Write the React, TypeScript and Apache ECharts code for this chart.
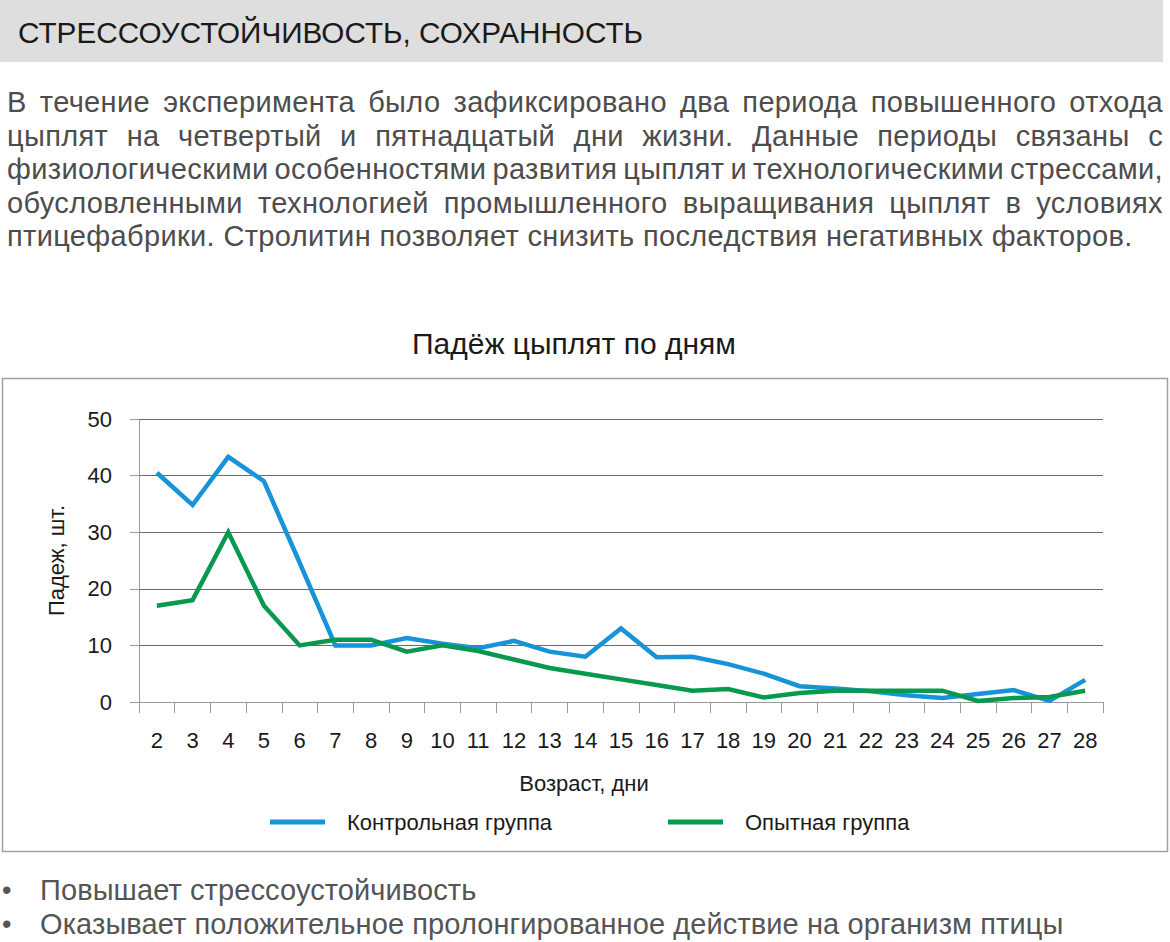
import React, { useEffect, useRef } from "react";
import * as echarts from "echarts";

const FONT = "'Liberation Sans', Arial, Helvetica, sans-serif";

const headerText = "СТРЕССОУСТОЙЧИВОСТЬ, СОХРАННОСТЬ";
const paragraphLines = [
  "В течение эксперимента было зафиксировано два периода повышенного отхода",
  "цыплят на четвертый и пятнадцатый дни жизни. Данные периоды связаны с",
  "физиологическими особенностями развития цыплят и технологическими стрессами,",
  "обусловленными технологией промышленного выращивания цыплят в условиях",
  "птицефабрики. Стролитин позволяет снизить последствия негативных факторов.",
];
const bullets = [
  "Повышает стрессоустойчивость",
  "Оказывает положительное пролонгированное действие на организм птицы",
];

const chartTitle = "Падёж цыплят по дням";
const xAxisName = "Возраст, дни";
const yAxisName = "Падеж, шт.";
const seriesNames = ["Контрольная группа", "Опытная группа"];

const days = [
  "2", "3", "4", "5", "6", "7", "8", "9", "10", "11", "12", "13", "14", "15",
  "16", "17", "18", "19", "20", "21", "22", "23", "24", "25", "26", "27", "28",
];
const controlGroup = [
  40.5, 34.8, 43.3, 39, 24.6, 10, 10, 11.3, 10.3, 9.5, 10.8, 8.9, 8, 13,
  7.9, 8, 6.7, 5, 2.8, 2.4, 1.9, 1.2, 0.7, 1.4, 2.1, 0.2, 3.9,
];
const experimentalGroup = [
  17, 18, 30, 17, 10, 11, 11, 8.9, 10, 9, 7.5, 6, 5, 4,
  3, 2, 2.3, 0.8, 1.6, 2, 2, 2, 2, 0.2, 0.7, 0.9, 2,
];
const yMin = 0;
const yMax = 50;
const yStep = 10;

const BLUE = "#1993d8";
const GREEN = "#08994f";

export default function App() {
  const ref = useRef<HTMLDivElement>(null);

  useEffect(() => {
    if (!ref.current) return;
    const chart = echarts.init(ref.current, null, { renderer: "svg" });
    const textColor = "#1a1a1a";
    const fs = 22;
    chart.setOption({
      animation: false,
      textStyle: { fontFamily: FONT },
      title: {
        text: chartTitle,
        left: 412,
        top: 328,
        padding: 0,
        textStyle: { fontSize: 30, fontWeight: "normal", color: textColor, fontFamily: FONT },
      },
      graphic: [
        {
          type: "rect",
          shape: { x: 2.5, y: 378.5, width: 1165, height: 473 },
          style: { fill: "none", stroke: "#a0a0a0", lineWidth: 1.5 },
          silent: true,
          z: 0,
        },
      ],
      legend: [
        {
          data: [seriesNames[0]],
          left: 270,
          top: 811,
          icon: "rect",
          itemWidth: 55,
          itemHeight: 5,
          padding: 0,
          textStyle: { fontSize: fs, color: textColor, padding: [0, 0, 0, 17], fontFamily: FONT },
        },
        {
          data: [seriesNames[1]],
          left: 668,
          top: 811,
          icon: "rect",
          itemWidth: 55,
          itemHeight: 5,
          padding: 0,
          textStyle: { fontSize: fs, color: textColor, padding: [0, 0, 0, 17], fontFamily: FONT },
        },
      ],
      grid: { left: 139, top: 419, width: 964, height: 283, containLabel: false },
      xAxis: {
        type: "category",
        data: days,
        boundaryGap: true,
        name: xAxisName,
        nameLocation: "middle",
        nameGap: 70,
        nameTextStyle: { fontSize: fs, color: textColor, padding: [0, 74, 0, 0], fontFamily: FONT },
        axisLine: { show: true, lineStyle: { color: "#9a9a9a", width: 1 } },
        axisTick: { show: true, length: 11, alignWithLabel: false, interval: 0, lineStyle: { color: "#9a9a9a" } },
        axisLabel: { fontSize: fs, color: textColor, margin: 27, interval: 0, fontFamily: FONT },
        splitLine: { show: false },
      },
      yAxis: {
        type: "value",
        min: yMin,
        max: yMax,
        interval: yStep,
        name: yAxisName,
        nameLocation: "middle",
        nameGap: 72,
        nameTextStyle: { fontSize: fs, color: textColor, fontFamily: FONT },
        axisLine: { show: true, lineStyle: { color: "#9a9a9a", width: 1 } },
        axisTick: { show: true, length: 9, lineStyle: { color: "#9a9a9a" } },
        axisLabel: { fontSize: fs, color: textColor, margin: 27, fontFamily: FONT },
        splitLine: { show: true, lineStyle: { color: "#6a6a6a", width: 1 } },
      },
      series: [
        {
          name: seriesNames[0],
          type: "line",
          data: controlGroup,
          showSymbol: false,
          symbol: "none",
          color: BLUE,
          lineStyle: { color: BLUE, width: 4.5, join: "miter" },
          z: 3,
        },
        {
          name: seriesNames[1],
          type: "line",
          data: experimentalGroup,
          showSymbol: false,
          symbol: "none",
          color: GREEN,
          lineStyle: { color: GREEN, width: 4.5, join: "miter" },
          z: 4,
        },
      ],
    });
    return () => chart.dispose();
  }, []);

  const paraFont = 29;
  const paraLH = 33.6;

  return (
    <div
      style={{
        position: "absolute",
        left: 0,
        top: 0,
        width: 1170,
        height: 942,
        overflow: "hidden",
        background: "#ffffff",
        fontFamily: FONT,
      }}
    >
      <div ref={ref} style={{ position: "absolute", left: 0, top: 0, width: 1170, height: 942 }} />
      <div
        style={{
          position: "absolute",
          left: 0,
          top: 0,
          width: 1163,
          height: 62,
          background: "#dedede",
        }}
      />
      <div
        style={{
          position: "absolute",
          left: 18,
          top: 18,
          fontSize: 29.7,
          lineHeight: "29px",
          color: "#1a1a1a",
          whiteSpace: "nowrap",
        }}
      >
        {headerText}
      </div>
      <div
        style={{
          position: "absolute",
          left: 7,
          top: 86,
          width: 1156,
          fontSize: paraFont,
          lineHeight: paraLH + "px",
          letterSpacing: "0.35px",
          color: "#4d4d4d",
        }}
      >
        {paragraphLines.map((line, i) =>
          i < paragraphLines.length - 1 ? (
            <div
              key={i}
              style={{ display: "flex", justifyContent: "space-between", whiteSpace: "nowrap", height: paraLH }}
            >
              {line.split(" ").map((w, j) => (
                <span key={j}>{w}</span>
              ))}
            </div>
          ) : (
            <div key={i} style={{ whiteSpace: "nowrap", height: paraLH }}>
              {line}
            </div>
          )
        )}
      </div>
      <div
        style={{
          position: "absolute",
          left: 0,
          top: 873,
          width: 1170,
          fontSize: 29,
          lineHeight: "34px",
          letterSpacing: "0.1px",
          color: "#555555",
        }}
      >
        {bullets.map((b, i) => (
          <div key={i} style={{ position: "relative", height: 34, whiteSpace: "nowrap" }}>
            <span style={{ position: "absolute", left: 2, fontSize: 27 }}>•</span>
            <span style={{ position: "absolute", left: 40 }}>{b}</span>
          </div>
        ))}
      </div>
    </div>
  );
}
